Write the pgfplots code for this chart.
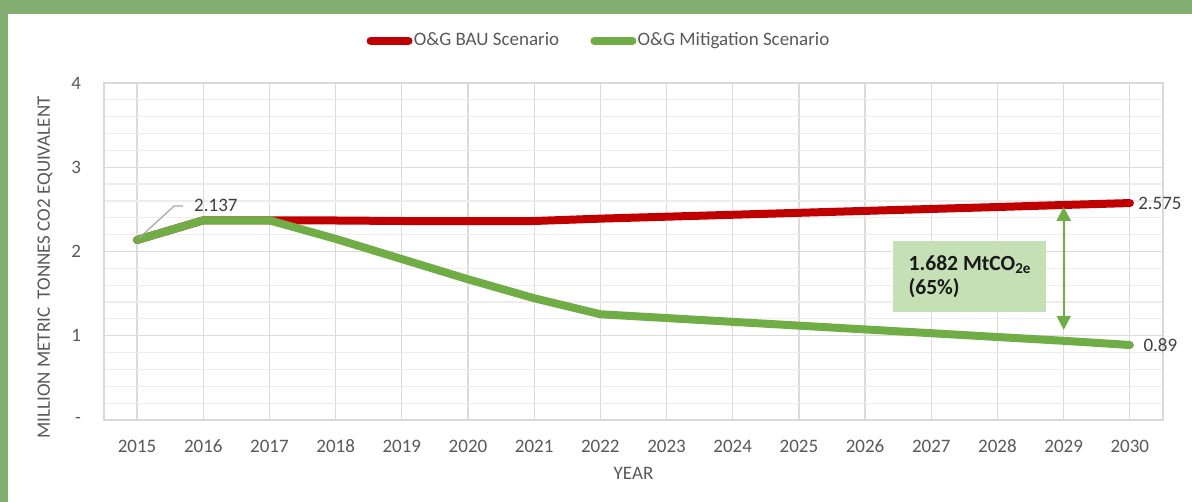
\documentclass[border=0pt]{standalone}
\usepackage{fontspec}
\setmainfont{Carlito}
\usepackage{pgfplots}
\pgfplotsset{compat=1.18}
\usetikzlibrary{arrows.meta}

\definecolor{frame}{HTML}{82AE72}
\definecolor{bau}{HTML}{C00000}
\definecolor{mit}{HTML}{70AD47}
\definecolor{boxg}{HTML}{C5E0B4}
\definecolor{txt}{HTML}{595959}
\definecolor{dtxt}{HTML}{404040}

\pgfplotstableread{
year bau mit
2015 2.137 2.137
2016 2.370 2.370
2017 2.370 2.370
2018 2.368 2.150
2019 2.362 1.910
2020 2.360 1.670
2021 2.362 1.445
2022 2.390 1.255
2023 2.413 1.210
2024 2.436 1.165
2025 2.459 1.120
2026 2.482 1.075
2027 2.505 1.030
2028 2.528 0.985
2029 2.552 0.940
2030 2.575 0.890
}\data

\begin{document}
\begin{tikzpicture}
\fill[white] (-52pt,-41pt) rectangle (544pt,210pt);
\fill[frame] (-52pt,203pt) rectangle (544pt,210pt);
\fill[frame] (-52pt,-41pt) rectangle (-48pt,210pt);
\begin{axis}[
  at={(0,0)}, anchor=south west,
  scale only axis, width=529.5pt, height=168.5pt,
  xmin=2014.5, xmax=2030.5, ymin=0, ymax=4,
  xtick={2015,...,2030}, minor x tick num=1,
  ytick={0,1,2,3,4}, yticklabels={-,1,2,3,4}, minor y tick num=4,
  major tick length=0pt, minor tick length=0pt,
  grid=both,
  major grid style={color=black!14, line width=0.6pt},
  minor grid style={color=black!7, line width=0.6pt},
  axis line style={color=black!15, line width=0.7pt},
  tick label style={font=\fontsize{9.5}{11}\selectfont, text=txt},
  xticklabel style={/pgf/number format/1000 sep={}, text height=6.5pt, text depth=0pt, yshift=-6pt},
  yticklabel style={xshift=-8pt},
  /pgf/number format/assume math mode=true,
  xlabel={YEAR},
  xlabel style={font=\fontsize{9.5}{11}\selectfont, text=txt, at={(axis description cs:0.5,-0.157)}, anchor=center},
  ylabel={MILLION METRIC\ \ TONNES CO2 EQUIVALENT},
  ylabel style={font=\fontsize{9.5}{11}\selectfont, text=txt, at={(axis description cs:-0.0557,0.4525)}, anchor=center, rotate=0},
  legend style={at={(axis description cs:0.467,1.125)}, anchor=center, draw=none, fill=none,
    font=\fontsize{9.5}{11}\selectfont, text=txt, legend columns=2,
    /tikz/every even column/.append style={column sep=15pt},
    nodes={inner sep=0.6pt}},
  legend image code/.code={\draw[#1, line width=4pt, line cap=round] (0pt,0pt) -- (19pt,0pt);},
  every axis plot/.append style={line width=4pt, line cap=round, line join=round},
  clip=false,
]
\addplot[bau] table[x=year, y=bau] {\data};
\addlegendentry{O\&G BAU Scenario}
\addplot[mit] table[x=year, y=mit] {\data};
\addlegendentry{O\&G Mitigation Scenario}

\draw[black!35, line width=0.6pt] (axis cs:2015.03,2.16) -- (axis cs:2015.56,2.54) -- (axis cs:2015.69,2.54);
\node[text=dtxt, font=\fontsize{9.5}{11}\selectfont, anchor=center] at (axis cs:2016.19,2.55) {2.137};
\node[text=dtxt, font=\fontsize{9.5}{11}\selectfont, anchor=west, inner sep=0pt] at (axis cs:2030.12,2.575) {2.575};
\node[text=dtxt, font=\fontsize{9.5}{11}\selectfont, anchor=west, inner sep=0pt] at (axis cs:2030.2,0.89) {0.89};

\fill[boxg] (axis cs:2026.42,1.28) rectangle (axis cs:2028.73,2.12);
\node[anchor=west, align=left, font=\fontsize{10.8}{12}\selectfont\bfseries, text=black!90, inner sep=0pt]
  at (axis cs:2026.65,1.7) {1.682 MtCO\textsubscript{2e}\\(65\%)};
\draw[mit, line width=1.2pt, {Triangle[width=7pt,length=7pt]}-{Triangle[width=7pt,length=7pt]}]
  (axis cs:2029,2.53) -- (axis cs:2029,1.07);
\end{axis}
\pgfresetboundingbox
\path (-52pt,-41pt) rectangle (544pt,210pt);
\end{tikzpicture}
\end{document}
